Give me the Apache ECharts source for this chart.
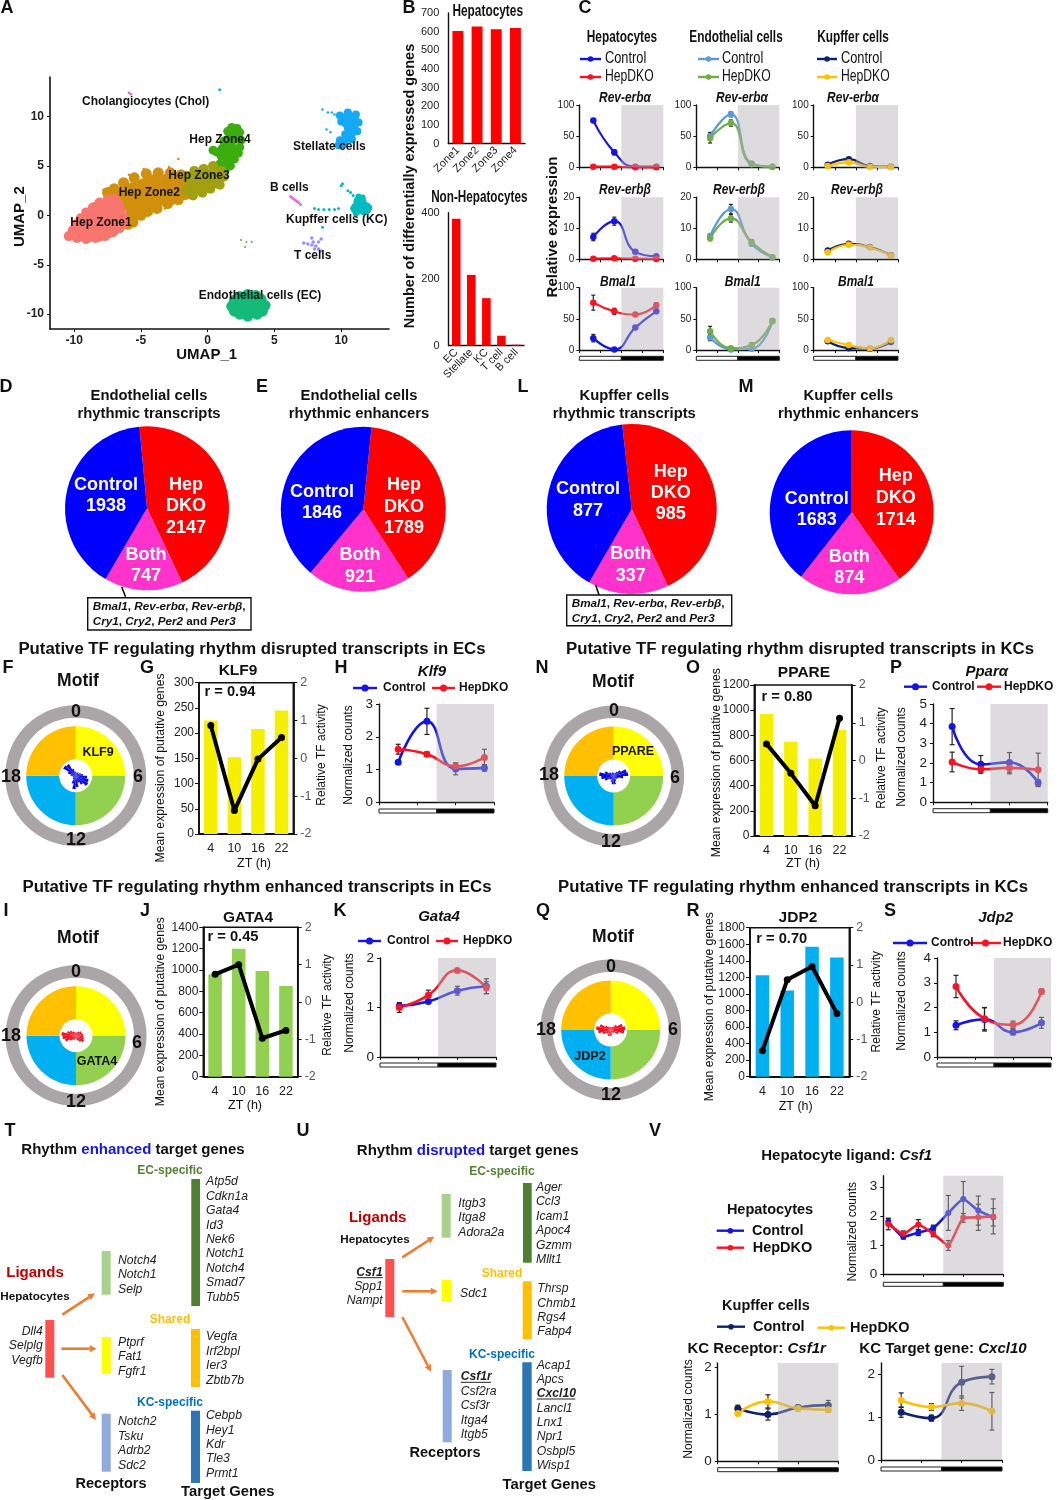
<!DOCTYPE html>
<html><head><meta charset="utf-8">
<style>html,body{margin:0;padding:0;background:#fff}#c{width:1063px;height:1500px}</style>
<script src="https://cdn.jsdelivr.net/npm/echarts@6/dist/echarts.min.js"></script>
</head><body><div id="c"></div>
<script>
// ---------- Panel A: UMAP clusters (core + outline points)
const umapZone1Core=[[-9.7,-1.8],[-9,-1.9],[-8.2,-1.8],[-7.5,-1.5],[-9.2,-1],[-8.4,-1],[-7.6,-.9],[-6.9,-.8],[-8.8,-.2],[-8,-.1],[-7.2,0],[-6.8,-.2],[-8.1,.7],[-7.4,.8],[-6.9,.8]];
const umapZone1Edge=[[-10.4,-2.1],[-10.1,-1.5],[-9.8,-.9],[-9.5,-.3],[-9.1,.3],[-8.6,.8],[-8.1,1.3],[-7.5,1.6],[-7,1.7],[-6.7,1.2],[-6.5,.5],[-6.3,-.2],[-6.2,-.8],[-6.6,-1.3],[-7.1,-1.7],[-7.7,-2.1],[-8.4,-2.3],[-9.1,-2.4],[-9.8,-2.3]];
const umapZone2Core=[[-6.4,2],[-5.6,2.6],[-4.8,3],[-4,3.4],[-3,3.5],[-2.2,3.2],[-5.9,1.2],[-5.2,1.7],[-4.5,2.3],[-3.5,2.6],[-2.5,2.5],[-1.9,2.4],[-5.3,.6],[-4.5,1.3],[-3.6,1.7],[-2.7,1.8],[-5.6,.1]];
const umapZone2Edge=[[-7.5,2.3],[-7,2.7],[-6.3,3.3],[-5.5,3.8],[-4.6,4.2],[-3.7,4.3],[-2.8,4.3],[-2,4.1],[-1.6,3.6],[-1.6,2.8],[-1.7,2.1],[-2.2,1.6],[-3,1.2],[-3.8,.7],[-4.5,.4],[-5,0],[-5.6,-.7],[-6,-.9]];
const umapZone2Specks=[[-2.2,5.7],[-5.9,4.1],[-3.2,.7],[-7.8,2.6],[-4.8,4.7],[-2.9,4.9]];
const umapZone3Core=[[-1,3.8],[-.4,3.8],[.3,4.1],[.7,3.8],[-.9,2.9],[-.3,3],[.3,3.3],[-1.2,3.3]];
const umapZone3Edge=[[-1.6,4],[-1,4.5],[-.3,4.7],[.4,5],[1,4.5],[1.2,3.9],[.9,3.1],[.2,2.7],[-.4,2.3],[-1.1,2],[-1.6,2.5]];
const umapZone4Core=[[1.8,8.4],[2,7.8],[1.7,7.1],[2,6.5],[1.6,6],[1.5,5.3],[1.3,4.9],[1.5,7.6],[1.4,6.6]];
const umapZone4Edge=[[1.5,8.5],[1.8,8.9],[2.2,8.8],[2.4,8.4],[2.5,7.6],[2.4,6.9],[2.3,6.3],[2,5.7],[1.7,5],[1.3,4.5],[.9,4.7],[.9,5.2],[1,6],[.7,6.4],[.4,6.6],[1.1,6.8],[1.2,7.5]];
const umapECCore=[[2.6,-8.8],[3.2,-8.7],[3.7,-9],[2.6,-9.5],[3.2,-9.5],[3.7,-9.4]];
const umapECEdge=[[1.8,-9.2],[2,-8.6],[2.4,-8.2],[3,-8],[3.6,-8.1],[4,-8.5],[4.3,-9.1],[4.1,-9.7],[3.7,-10],[3,-10.2],[2.4,-10],[2,-9.7]];
const umapStellateCore=[[10.5,10],[10.9,9.8],[10.9,9.1],[10.8,8.5],[10.5,7.9],[10.1,7.4],[10.4,9.4],[10.6,8.9]];
const umapStellateEdge=[[9.9,10.1],[10.5,10.4],[11.1,10.2],[11.3,9.4],[11.2,8.5],[10.8,7.7],[10.2,7.2],[9.8,7.1],[10,9.5],[10.3,8.2],[9.9,7.6]];
const umapStellateSpecks=[[8.6,10.7],[9,10.4],[9.5,10.2],[9.3,10.4],[8.9,8.7],[9.2,8.4],[9.5,7.1]];
const umapKC=[[11.4,1.4],[11.2,.7],[11.8,.7],[11.5,1]];
const umapKCEdge=[[10.9,.7],[12.1,.8],[11.3,1.9],[11.6,1.8],[11.1,.2],[11.7,.3]];
const umapKCSpecks=[[8,.7],[8.3,.6],[8.7,.6],[9.1,.6],[9.5,.6],[9.8,.7],[10,3],[10.1,3.2],[10.5,2.5],[10.7,2.3],[10.9,2],[.9,12.7],[8.6,-1.2]];
const umapT=[[7.2,-2.8],[7.5,-2.9],[7.8,-3],[8.1,-3.1],[8.3,-3.4],[8.5,-3.6],[7.8,-2.3],[7.9,-2.7],[8.5,-2.4],[8.3,-2.7],[8,-3.4]];
const umapB=[[6.2,1.9],[6.3,1.8],[6.4,1.7],[6.5,1.6],[6.6,1.5],[6.7,1.4],[6.8,1.3],[6.95,1.1]];
const umapChol=[[-5.9,12.4],[-5.75,12.25]];
const umapStray=[[2.5,-2.5],[2.9,-2.7],[3.3,-2.7],[2.8,-3.2]];
// ---------- Panel B
const zoneCats=['Zone1','Zone2','Zone3','Zone4'];
const zoneVals=[603,628,613,620];
const nonHepCats=['EC','Stellate','KC','T cell','B cell'];
const nonHepVals=[382,213,143,30,3];
// ---------- Panel C
const ztC=[4,10,16,22];
const cHepA=[75,24,1,1], cHepAe=[3,4,2,2], dHepA=[1,1,0,0], dHepAe=[1,1,1,1];
const cEcA=[50,85,6,1], cEcAe=[6,4,2,1], dEcA=[47,71,5,1], dEcAe=[8,5,2,1];
const cKcA=[4,13,2,1], cKcAe=[2,2,1,1], dKcA=[2,8,1,.5], dKcAe=[1,2,1,1];
const cHepB=[7.2,12.3,2.4,1], cHepBe=[1.2,1.3,.6,.4], dHepB=[.2,.3,.2,.1], dHepBe=[.2,.2,.2,.1];
const cEcB=[7.5,16.2,5,.7], cEcBe=[.8,1.5,.7,.3], dEcB=[6.8,13.2,5.5,.7], dEcBe=[.8,1.2,.9,.3];
const cKcB=[2.8,5,4,1.3], cKcBe=[.4,.4,.4,.3], dKcB=[2.3,4.7,3.8,1.2], dKcBe=[.3,.3,.4,.3];
const cHepM=[19,1,36,62], cHepMe=[6,2,3,3], dHepM=[76,62,57,72], dHepMe=[12,5,3,4];
const cEcM=[20,1,2,46], cEcMe=[5,1,1,3], dEcM=[30,3,8,47], dEcMe=[8,2,3,3];
const cKcM=[14,3,2,13], cKcMe=[2,2,1,2], dKcM=[16,8,3,16], dKcMe=[2,2,1,2];
// ---------- Pies
const pieD=[2147,747,1938], pieE=[1789,921,1846], pieL=[985,337,877], pieM=[1714,874,1683];
// ---------- Motif rose plots (24 phase bins, clockwise from ZT0)
const quadrants=[1,1,1,1];
const roseKLF9=[3,3,4,3,5,7,11,13,14,10,7,11,13,8,4,3,3,3,5,8,14,13,7,4];
const rosePPARE=[3,3,5,8,13,14,9,5,4,3,5,8,8,6,4,5,9,12,14,9,5,3,4,3];
const roseGATA4=[3,4,5,6,6,7,7,8,9,7,5,3,3,4,5,7,11,13,14,9,7,5,4,3];
const roseJDP2=[3,3,4,7,12,14,13,8,4,3,3,5,6,6,4,5,8,12,14,11,6,4,3,3];
// ---------- TF bar + activity panels
const ztCats=['4','10','16','22'];
const klf9Bars=[225,152,208,245], klf9Act=[.87,-1.38,-.02,.55];
const ppareBars=[970,750,615,845], ppareAct=[.44,-.34,-1.2,1.12];
const gata4Bars=[960,1200,990,850], gata4Act=[.74,1,-.97,-.76];
const jdp2Bars=[1225,1040,1570,1440], jdp2Act=[-1.3,.6,.96,-.3];
// ---------- Normalized counts
const klf9Ctl=[1.22,2.47,1.02,1.05], klf9CtlE=[.05,.4,.18,.1], klf9Dko=[1.62,1.47,1.1,1.37], klf9DkoE=[.15,.07,.1,.25];
const pparaCtl=[3.85,1.93,2.03,1], pparaCtlE=[.92,.45,.5,.15], pparaDko=[2.05,1.68,1.75,1.65], pparaDkoE=[.5,.15,.3,.85];
const gata4Ctl=[1.03,1.12,1.34,1.43], gata4CtlE=[.05,.03,.09,.15], gata4Dko=[1,1.25,1.75,1.4], gata4DkoE=[.1,.1,.03,.12];
const jdp2Ctl=[1.28,1.52,1,1.38], jdp2CtlE=[.18,.47,.1,.22], jdp2Dko=[2.85,1.55,1.3,2.65], jdp2DkoE=[.45,.45,.15,.1];
const zt8=[1,4,7,10,13,16,19,22];
const csf1Ctl=[1.8,1.28,1.42,1.58,2.1,2.58,2.18,1.95], csf1CtlE=[.1,.08,.1,.1,.6,.6,.5,.3];
const csf1Dko=[1.72,1.38,1.7,1.38,.98,1.93,1.95,1.98], csf1DkoE=[.2,.1,.17,.1,.17,.15,.45,.6];
const csf1rCtl=[1.13,1,1.15,1.2], csf1rCtlE=[.07,.12,.05,.1], csf1rDko=[1.02,1.28,1.13,1.1], csf1rDkoE=[.04,.14,.05,.05];
const cxcl10Ctl=[1.12,.98,1.82,1.95], cxcl10CtlE=[.12,.07,.37,.17], cxcl10Dko=[1.4,1.24,1.33,1.14], cxcl10DkoE=[.17,.08,.17,.44];
// ---------- Gene lists
const tEcTargets=['Atp5d','Cdkn1a','Gata4','Id3','Nek6','Notch1','Notch4','Smad7','Tubb5'];
const tEcRec=['Notch4','Notch1','Selp'];
const tLig=['Dll4','Selplg','Vegfb'];
const tSharedRec=['Ptprf','Fat1','Fgfr1'];
const tSharedTargets=['Vegfa','Irf2bpl','Ier3','Zbtb7b'];
const tKcTargets=['Cebpb','Hey1','Kdr','Tle3','Prmt1'];
const tKcRec=['Notch2','Tsku','Adrb2','Sdc2'];
const uEcTargets=['Ager','Ccl3','Icam1','Apoc4','Gzmm','Mllt1'];
const uEcRec=['Itgb3','Itga8','Adora2a'];
const uLig=['Csf1','Spp1','Nampt'];
const uSharedRec=['Sdc1'];
const uSharedTargets=['Thrsp','Chmb1','Rgs4','Fabp4'];
const uKcTargets=['Acap1','Apcs','Cxcl10','Lancl1','Lnx1','Npr1','Osbpl5','Wisp1'];
const uKcRec=['Csf1r','Csf2ra','Csf3r','Itga4','Itgb5'];

// ---------- Builders
const F='"Liberation Sans"';
const BLUE='#1414e8', RED='#ff1020', ECC='#5b9bd5', ECD='#70ad47', KCC='#10206e', KCD='#ffc000';
const grids=[],xAxes=[],yAxes=[],series=[],gfx=[];
const plain=v=>String(v);
function fontStr(o){return (o.italic?'italic ':'')+(o.bold?'bold ':'')+(o.size||13)+'px '+(o.family||F);}
function t(x,y,text,o={}){gfx.push({type:'text',x,y,rotation:o.rot||0,scaleX:o.sx||1,silent:true,z:o.z||50,style:{text,font:fontStr(o),fill:o.color||'#111',align:o.align||'center',verticalAlign:'middle'}});}
function rich(x,y,parts,o={}){let s='',r={};parts.forEach((p,i)=>{const k='p'+i;s+='{'+k+'|'+p.s+'}';r[k]={fontFamily:o.family||F,fontSize:o.size||14,fontWeight:p.bold===false?'normal':'bold',fontStyle:p.i?'italic':'normal',fill:p.color||'#111',color:p.color||'#111'};});
 gfx.push({type:'text',x,y,silent:true,z:50,style:{text:s,rich:r,align:o.align||'center',verticalAlign:'middle'}});}
function rect(x,y,w,h,fill,stroke,lw){gfx.push({type:'rect',silent:true,z:20,shape:{x,y,width:w,height:h},style:{fill:fill||'none',stroke:stroke||null,lineWidth:lw||0}});}
function seg(x1,y1,x2,y2,color,lw){gfx.push({type:'line',silent:true,z:20,shape:{x1,y1,x2,y2},style:{stroke:color,lineWidth:lw}});}
function arrow(x1,y1,x2,y2){const a=Math.atan2(y2-y1,x2-x1),L=7,W=3.5,bx=x2-L*Math.cos(a),by=y2-L*Math.sin(a);seg(x1,y1,bx,by,'#ed7d31',2.6);
 gfx.push({type:'polygon',silent:true,z:20,shape:{points:[[x2,y2],[bx-W*Math.sin(a),by+W*Math.cos(a)],[bx+W*Math.sin(a),by-W*Math.cos(a)]]},style:{fill:'#ed7d31'}});}
function leg(x1,x2,y,color,label,tx,size,o={}){seg(x1,y,x2,y,color,o.lw||2.4);gfx.push({type:'circle',silent:true,z:21,shape:{cx:(x1+x2)/2,cy:y,r:o.r||2.8},style:{fill:color}});t(tx,y,label,{size:size,align:'left',bold:o.bold,sx:o.sx});}
function grid(l,r,tp,b,show){grids.push({left:l,top:tp,width:r-l,height:b-tp,containLabel:false,show:!!show,borderColor:'#111',borderWidth:1.5});return grids.length-1;}
const lineAx=(lw)=>({show:true,onZero:false,lineStyle:{color:'#111',width:lw||1.4}});

function lineChart(o){
 const g=grid(o.l,o.r,o.t,o.b);const xi=xAxes.length,yi=yAxes.length;
 xAxes.push({gridIndex:g,type:'value',min:0,max:24,axisLine:lineAx(),splitLine:{show:false},axisLabel:{show:false},axisTick:{show:true,length:3,customValues:o.xTicks||[0,6,12,18,24],lineStyle:{color:'#111'}}});
 yAxes.push({gridIndex:g,type:'value',min:0,max:o.yMax,axisLine:lineAx(),splitLine:{show:false},axisTick:{show:true,length:3,customValues:o.yTicks,lineStyle:{color:'#111'}},axisLabel:{customValues:o.yTicks,formatter:plain,fontFamily:F,fontSize:o.fs||13.5,color:'#222',margin:o.lm||6}});
 const ax={xAxisIndex:xi,yAxisIndex:yi,silent:true};
 series.push({...ax,type:'custom',z:6,data:[[12,24]],encode:{x:[0,1]},renderItem:(p,api)=>{const a=api.coord([api.value(0),0]),b=api.coord([api.value(1),0]);return{type:'rect',shape:{x:a[0],y:p.coordSys.y,width:b[0]-a[0],height:p.coordSys.height},style:{fill:'rgba(180,176,180,.45)'}};}});
 if(o.barY){series.push({...ax,type:'custom',z:3,clip:false,data:[[0,12,0],[12,24,1]],encode:{x:[0,1]},renderItem:(p,api)=>{const a=api.coord([api.value(0),0]),b=api.coord([api.value(1),0]),k=api.value(2);return{type:'rect',shape:{x:a[0],y:o.barY-2,width:b[0]-a[0],height:4},style:{fill:k?'#000':'#fff',stroke:'#222',lineWidth:1}};}});}
 o.lines.forEach(s=>{
  series.push({...ax,type:'custom',z:3,data:o.x.map((x,i)=>[x,s.v[i],s.e[i]]),encode:{x:0,y:1},renderItem:(p,api)=>{const x=api.value(0),v=api.value(1),e=api.value(2),a=api.coord([x,v+e]),b=api.coord([x,Math.max(v-e,0)]),c=o.cap||2.5;const st={stroke:'#222',lineWidth:1.2};return{type:'group',children:[{type:'line',shape:{x1:a[0],y1:a[1],x2:b[0],y2:b[1]},style:st},{type:'line',shape:{x1:a[0]-c,y1:a[1],x2:a[0]+c,y2:a[1]},style:st},{type:'line',shape:{x1:b[0]-c,y1:b[1],x2:b[0]+c,y2:b[1]},style:st}]};}});
  series.push({...ax,type:'line',z:4,smooth:o.smooth===undefined?.5:o.smooth,data:o.x.map((x,i)=>[x,s.v[i]]),symbol:'circle',symbolSize:o.ms||7,lineStyle:{color:s.c,width:o.lw||2.6},itemStyle:{color:s.c},clip:false});
 });
}
function barChart(o){
 const g=grid(o.l,o.r,o.t,o.b,true);const xi=xAxes.length,yi=yAxes.length;
 xAxes.push({gridIndex:g,type:'category',data:ztCats,axisLine:lineAx(1.8),axisTick:{show:false},axisLabel:{fontSize:12.5,color:'#222',fontFamily:F,margin:8}});
 yAxes.push({gridIndex:g,type:'value',min:0,max:o.yMax,interval:o.yInt,axisLine:lineAx(1.8),splitLine:{show:false},axisTick:{show:true,length:4,lineStyle:{color:'#111'}},axisLabel:{formatter:plain,fontSize:12,color:'#222',fontFamily:F,margin:5}});
 yAxes.push({gridIndex:g,type:'value',position:'right',min:-2,max:2,interval:1,axisLine:lineAx(1.8),splitLine:{show:false},axisTick:{show:true,length:4,lineStyle:{color:'#111'}},axisLabel:{formatter:plain,fontSize:12.5,color:'#555',fontFamily:F,margin:7}});
 series.push({type:'bar',xAxisIndex:xi,yAxisIndex:yi,silent:true,data:o.bars,barWidth:13.5,itemStyle:{color:o.color}});
 series.push({type:'line',xAxisIndex:xi,yAxisIndex:yi+1,silent:true,data:o.act,symbol:'circle',symbolSize:7,lineStyle:{color:'#000',width:4},itemStyle:{color:'#000'}});
 t(o.titleX,o.titleY,o.title,{bold:true,size:15.5});
 t(o.rX,o.rY,o.rText,{bold:true,size:14.7});
 t(o.ylX,o.ylY,'Mean expression of putative genes',{size:12.2,rot:Math.PI/2});
 t(o.yrX,o.yrY,'Relative TF activity',{size:12,rot:Math.PI/2});
 t(o.ztX,o.ztY,'ZT (h)',{size:12.5});
}
function motif(cx,cy,rose,roseColor,lab,labPos,nums,motifPos){
 series.push({type:'pie',silent:true,center:[cx,cy],radius:[58,70.5],startAngle:90,z:2,label:{show:false},labelLine:{show:false},data:[{value:1,itemStyle:{color:'#aaa6a8'}}]});
 const qc=['#ffff00','#92d050','#00b0f0','#ffc000'];
 series.push({type:'pie',silent:true,center:[cx,cy],radius:[16.5,49.5],startAngle:90,clockwise:true,z:2,label:{show:false},labelLine:{show:false},data:quadrants.map((v,i)=>({value:v,itemStyle:{color:qc[i]}}))});
 series.push({type:'pie',silent:true,center:[cx,cy],radius:[0,14.5],roseType:'area',startAngle:90,clockwise:true,z:3,label:{show:false},labelLine:{show:false},data:rose.map(v=>({value:v,itemStyle:{color:roseColor}}))});
 t(labPos[0],labPos[1],lab,{bold:true,size:12.5});
 ['0','6','12','18'].forEach((s,i)=>t(nums[i][0],nums[i][1],s,{bold:true,size:18}));
 t(motifPos[0],motifPos[1],'Motif',{bold:true,size:17.5});
}
function pie(cx,cy,r,start,vals,lines){
 const cs=['#ff0000','#ff33cc','#0000ff'];
 series.push({type:'pie',silent:true,center:[cx,cy],radius:[0,r],startAngle:start,clockwise:true,label:{show:false},labelLine:{show:false},data:vals.map((v,i)=>({value:v,itemStyle:{color:cs[i]}}))});
 lines.forEach(l=>t(l[0],l[1],l[2],{bold:true,size:18,color:'#fff'}));
}
function bars(g,cats,vals,yMax,yInt){
 const xi=xAxes.length,yi=yAxes.length;
 xAxes.push({gridIndex:g,type:'category',data:cats,axisLine:lineAx(1.4),axisTick:{show:false},axisLabel:{rotate:45,interval:0,fontSize:11,fontFamily:F,color:'#222',margin:5}});
 yAxes.push({gridIndex:g,type:'value',min:0,max:yMax,interval:yInt,axisLine:lineAx(1.4),splitLine:{show:false},axisTick:{show:false},axisLabel:{formatter:plain,fontSize:11,fontFamily:F,color:'#222',margin:9}});
 series.push({type:'bar',xAxisIndex:xi,yAxisIndex:yi,silent:true,data:vals,barWidth:'57%',itemStyle:{color:'#ff0000'}});
}

// ---------- Panel A
{
 const g=grid(50,389,77,329);
 const ticks=[-10,-5,0,5,10], xi=xAxes.length, yi=yAxes.length;
 xAxes.push({gridIndex:g,type:'value',min:-11.81,max:13.58,splitLine:{show:false},axisLine:lineAx(1.6),axisTick:{show:true,length:3,customValues:ticks,lineStyle:{color:'#111'}},axisLabel:{customValues:ticks,fontWeight:'bold',fontSize:12,color:'#222',fontFamily:F,margin:6}});
 yAxes.push({gridIndex:g,type:'value',min:-11.5,max:14,splitLine:{show:false},axisLine:lineAx(1.6),axisTick:{show:true,length:3,customValues:ticks,lineStyle:{color:'#111'}},axisLabel:{customValues:ticks,fontWeight:'bold',fontSize:12,color:'#222',fontFamily:F,margin:6}});
 const sc=(d,size,color)=>series.push({type:'scatter',xAxisIndex:xi,yAxisIndex:yi,silent:true,data:d,symbolSize:size,itemStyle:{color,opacity:1}});
 sc(umapZone2Specks,2.5,'#d0900c');sc(umapZone2Edge,11,'#d0900c');sc(umapZone2Core,15,'#d0900c');
 sc(umapZone1Edge,10,'#f8766d');sc(umapZone1Core,17,'#f8766d');
 sc(umapZone4Edge,9,'#3bae0e');sc(umapZone4Core,11,'#3bae0e');
 sc(umapZone3Edge,10,'#a0a010');sc(umapZone3Core,13,'#a0a010');
 sc(umapECEdge,11,'#13ba7a');sc(umapECCore,18,'#13ba7a');
 sc(umapStellateEdge,8,'#14a9f4');sc(umapStellateCore,11,'#14a9f4');sc(umapStellateSpecks,2.5,'#14a9f4');
 sc(umapKCEdge,6,'#00bcc0');sc(umapKC,13,'#00bcc0');sc(umapKCSpecks,3,'#00bcc0');
 sc(umapT,3.5,'#9590ff');sc(umapB,3,'#e76bf3');sc(umapChol,2.5,'#f060c0');sc(umapStray,2,'#50b030');
 [['Cholangiocytes (Chol)',145.7,101.7],['Hep Zone4',220,140],['Hep Zone3',199,176],['Hep Zone2',149.3,192.3],['Hep Zone1',101,222.7],['Stellate cells',329.3,147],['B cells',289.3,187.3],['Kupffer cells (KC)',336.7,220],['T cells',312.7,256],['Endothelial cells (EC)',260,295.7]].forEach(a=>t(a[1],a[2],a[0],{bold:true,size:12}));
 t(206.7,355,'UMAP_1',{bold:true,size:15});
 t(20,216.7,'UMAP_2',{bold:true,size:15,rot:Math.PI/2});
}
// ---------- Panel B
bars(grid(448.3,525,13,143.5),zoneCats,zoneVals,700,100);
bars(grid(448.7,524,212.7,345.7),nonHepCats,nonHepVals,400,200);
t(487.7,11,'Hepatocytes',{bold:true,size:16.5,sx:.72});
t(479.3,197.3,'Non-Hepatocytes',{bold:true,size:16.5,sx:.71});
t(410,186,'Number of differentially expressed genes',{bold:true,size:14.5,rot:Math.PI/2});
// ---------- Panel C
{
 const cols=[{l:579.3,r:663.3,cc:BLUE,dc:RED},{l:696.3,r:779.3,cc:ECC,dc:ECD},{l:813.7,r:898,cc:KCC,dc:KCD}];
 const rows=[{t:105,b:167.3,max:100,tk:[0,50,100]},{t:197.3,b:259.3,max:20,tk:[0,10,20]},{t:287.7,b:350,max:100,tk:[0,50,100],barY:358.3}];
 const tbl=[[[cHepA,cHepAe,dHepA,dHepAe],[cEcA,cEcAe,dEcA,dEcAe],[cKcA,cKcAe,dKcA,dKcAe]],[[cHepB,cHepBe,dHepB,dHepBe],[cEcB,cEcBe,dEcB,dEcBe],[cKcB,cKcBe,dKcB,dKcBe]],[[cHepM,cHepMe,dHepM,dHepMe],[cEcM,cEcMe,dEcM,dEcMe],[cKcM,cKcMe,dKcM,dKcMe]]];
 rows.forEach((R,ri)=>cols.forEach((C,ci)=>{const d=tbl[ri][ci];
  lineChart({l:C.l,r:C.r,t:R.t,b:R.b,yMax:R.max,yTicks:R.tk,barY:R.barY,x:ztC,fs:10,lm:5,lw:2.2,ms:6.5,cap:2,lines:[{v:d[0],e:d[1],c:C.cc},{v:d[2],e:d[3],c:C.dc}]});
 }));
 const titles=[['Rev-erbα',625,97.7],['Rev-erbα',742,97.7],['Rev-erbα',853,97.7],['Rev-erbβ',625,190],['Rev-erbβ',739,190],['Rev-erbβ',857,190],['Bmal1',618,281.7],['Bmal1',742.7,281.7],['Bmal1',856,281.7]];
 titles.forEach(a=>t(a[1],a[2],a[0],{bold:true,italic:true,size:15.5,sx:.77}));
 [['Hepatocytes',622],['Endothelial cells',736],['Kupffer cells',853]].forEach(a=>t(a[1],38,a[0],{bold:true,size:16,sx:.74}));
 const L=[[580,601,605,BLUE,RED],[698,719,722,ECC,ECD],[817,837,841,KCC,KCD]];
 L.forEach(a=>{leg(a[0],a[1],59,a[3],'Control',a[2],16,{sx:.8});leg(a[0],a[1],77,a[4],'HepDKO',a[2],16,{sx:.76});});
 t(553,227,'Relative expression',{bold:true,size:15,rot:Math.PI/2});
}
// ---------- Pies
[[149,'Endothelial cells','rhythmic transcripts'],[359,'Endothelial cells','rhythmic enhancers'],[624.3,'Kupffer cells','rhythmic transcripts'],[848.3,'Kupffer cells','rhythmic enhancers']].forEach(a=>{t(a[0],396,a[1],{bold:true,size:14.8});t(a[0],414,a[2],{bold:true,size:14.8});});
pie(147,508.3,82,95.3,pieD,[[106,485,'Control'],[106,506,'1938'],[186,485,'Hep'],[186,506,'DKO'],[186,528,'2147'],[146,555,'Both'],[146,576,'747']]);
pie(363.3,509.3,82.5,84.3,pieE,[[322,492,'Control'],[322,513,'1846'],[404,485,'Hep'],[404,507,'DKO'],[404,528,'1789'],[360,555,'Both'],[360,577,'921']]);
pie(631.7,509,85,96.4,pieL,[[588,489,'Control'],[588,511,'877'],[670.7,471.7,'Hep'],[670.7,492.7,'DKO'],[670.7,514.3,'985'],[630.7,554.3,'Both'],[630.7,576,'337']]);
pie(851.7,512.3,82,90,pieM,[[816.7,499,'Control'],[816.7,520,'1683'],[895.7,476,'Hep'],[895.7,498.3,'DKO'],[895.7,520,'1714'],[849.3,556.7,'Both'],[849.3,578.3,'874']]);
function clockBox(x,y,w,h,tx,y1,y2,lx1,ly1,lx2,ly2){rect(x,y,w,h,'#fff','#111',1.4);seg(lx1,ly1,lx2,ly2,'#111',1.6);
 rich(tx,y1,[{s:'Bmal1',i:1},{s:', '},{s:'Rev-erbα',i:1},{s:', '},{s:'Rev-erbβ',i:1},{s:','}],{size:11.7,align:'left'});
 rich(tx,y2,[{s:'Cry1',i:1},{s:', '},{s:'Cry2',i:1},{s:', '},{s:'Per2',i:1},{s:' and '},{s:'Per3',i:1}],{size:11.7,align:'left'});}
clockBox(87.7,597.7,163.3,32.3,92.7,606.7,622,121.7,586.7,125.5,596.7);
clockBox(566.7,595,165,30.7,571.7,603.3,618.3,595.7,585,599,595);
// ---------- Section titles
[[252,649,'Putative TF regulating rhythm disrupted transcripts in ECs'],[800,649,'Putative TF regulating rhythm disrupted transcripts in KCs'],[257,887,'Putative TF regulating rhythm enhanced transcripts in ECs'],[793,887,'Putative TF regulating rhythm enhanced transcripts in KCs']].forEach(a=>t(a[0],a[1],a[2],{bold:true,size:16.8}));
// ---------- Motifs
motif(75.7,775.7,roseKLF9,'#0a0ae0','KLF9',[98,753],[[76,712],[138,777],[76,840],[11,777]],[78,681]);
motif(613.7,776,rosePPARE,'#0a0ae0','PPARE',[633,752],[[614,711],[675,778],[611,842],[549,775]],[613,682]);
motif(76,1035.7,roseGATA4,'#f01020','GATA4',[97,1062],[[76,972],[137,1043],[76,1102],[11,1036]],[78,938]);
motif(610.7,1030,roseJDP2,'#f01020','JDP2',[590,1057],[[611,967],[673,1030],[611,1095],[546,1030]],[613,937]);
// ---------- Bar panels
barChart({l:199,r:293.3,t:682.7,b:834,yMax:300,yInt:50,bars:klf9Bars,act:klf9Act,color:'#f5f000',title:'KLF9',titleX:238,titleY:671,rText:'r = 0.94',rX:230,rY:692,ylX:160.7,ylY:768,yrX:321.7,yrY:755,ztX:254,ztY:864});
barChart({l:754.3,r:851.7,t:685,b:836,yMax:1200,yInt:200,bars:ppareBars,act:ppareAct,color:'#f5f000',title:'PPARE',titleX:804,titleY:673,rText:'r = 0.80',rX:787,rY:697,ylX:716.7,ylY:762.7,yrX:882,yrY:758,ztX:803,ztY:864});
barChart({l:203.3,r:297.7,t:927.3,b:1076.7,yMax:1400,yInt:200,bars:gata4Bars,act:gata4Act,color:'#92d050',title:'GATA4',titleX:248,titleY:917.7,rText:'r = 0.45',rX:233,rY:936.7,ylX:160.7,ylY:1011.7,yrX:328,yrY:1005,ztX:245,ztY:1105.7});
barChart({l:750,r:849.3,t:927.7,b:1076.7,yMax:1800,yInt:200,bars:jdp2Bars,act:jdp2Act,color:'#00b0f0',title:'JDP2',titleX:798,titleY:917.7,rText:'r = 0.70',rX:781.7,rY:939,ylX:710,ylY:1006.7,yrX:877,yrY:1001.7,ztX:795.7,ztY:1107});
// ---------- Count panels
const counts=(o,cv,ce,dv,de,cc,dc)=>lineChart({...o,lines:[{v:cv,e:ce,c:cc},{v:dv,e:de,c:dc}]});
counts({l:379,r:494,t:704,b:802.3,yMax:3,yTicks:[0,1,2,3],x:ztC,xTicks:[0,8,16,24],barY:811},klf9Ctl,klf9CtlE,klf9Dko,klf9DkoE,BLUE,RED);
counts({l:933,r:1047.7,t:704,b:802.3,yMax:5,yTicks:[0,1,2,3,4,5],x:ztC,xTicks:[0,8,16,24],barY:810.7},pparaCtl,pparaCtlE,pparaDko,pparaDkoE,BLUE,RED);
counts({l:380,r:496,t:958,b:1057,yMax:2,yTicks:[0,1,2],x:ztC,xTicks:[0,8,16,24],barY:1065},gata4Ctl,gata4CtlE,gata4Dko,gata4DkoE,BLUE,RED);
counts({l:937,r:1051,t:958,b:1057,yMax:4,yTicks:[0,1,2,3,4],x:ztC,xTicks:[0,8,16,24],barY:1065},jdp2Ctl,jdp2CtlE,jdp2Dko,jdp2DkoE,BLUE,RED);
counts({l:883.3,r:1003.3,t:1175.7,b:1274,yMax:3.38,yTicks:[0,1,2,3],x:zt8,xTicks:[0,8,16,24],barY:1284.3,smooth:.15,ms:6},csf1Ctl,csf1CtlE,csf1Dko,csf1DkoE,BLUE,RED);
counts({l:717.7,r:838.3,t:1363,b:1461.3,yMax:2.1,yTicks:[0,1,2],x:ztC,xTicks:[0,8,16,24],barY:1469.7},csf1rCtl,csf1rCtlE,csf1rDko,csf1rDkoE,KCC,KCD);
counts({l:881,r:1002,t:1363,b:1460,yMax:2.27,yTicks:[0,1,2],x:ztC,xTicks:[0,8,16,24],barY:1469},cxcl10Ctl,cxcl10CtlE,cxcl10Dko,cxcl10DkoE,KCC,KCD);
[[432,672,'Klf9'],[986.7,672,'Pparα'],[439,917,'Gata4'],[995.7,917.7,'Jdp2']].forEach(a=>t(a[0],a[1],a[2],{bold:true,italic:true,size:15}));
const nc=(x,y)=>t(x,y,'Normalized counts',{size:12,rot:Math.PI/2});
nc(349,755);nc(902,757);nc(350,1003);nc(902,1001);nc(853,1231.7);nc(689,1409);
[[353,377,383,432,455,459,688],[904,927,932,977,1001,1004,686.7],[358,381,387,436,458,463,941],[893,927,931,970,1001,1003,943]].forEach(a=>{leg(a[0],a[1],a[6],BLUE,'Control',a[2],12,{bold:true,r:3.5});leg(a[3],a[4],a[6],RED,'HepDKO',a[5],12,{bold:true,r:3.5});});
// ---------- Panel V labels
rich(846.7,1156,[{s:'Hepatocyte ligand: '},{s:'Csf1',i:1}],{size:15});
t(770,1210,'Hepatocytes',{bold:true,size:14.5});
leg(716.7,744,1230.7,BLUE,'Control',752,14.5,{bold:true});leg(716.7,744,1247.7,RED,'HepDKO',752.7,14.5,{bold:true});
t(766,1306,'Kupffer cells',{bold:true,size:14.5});
leg(717,745,1326.7,KCC,'Control',753,14.5,{bold:true});leg(817.7,845,1327.7,KCD,'HepDKO',850,14.5,{bold:true});
rich(756.7,1349,[{s:'KC Receptor: '},{s:'Csf1r',i:1}],{size:15});
rich(943,1349,[{s:'KC Target gene: '},{s:'Cxcl10',i:1}],{size:15});
// ---------- Panels T, U
function col(x,ys,names,o={}){names.forEach((n,i)=>t(x,ys[i],n,{italic:true,size:12.2,align:o.align||'left',bold:(o.bold||[]).includes(n),color:'#222'}));}
const head=(x,y,s,c)=>t(x,y,s,{bold:true,size:12,color:c});
const GRN='#548235',SH='#ffc000',KB='#0070c0';
rich(133,1150,[{s:'Rhythm '},{s:'enhanced',color:'#1414e8'},{s:' target genes'}],{size:15});
head(170,1171,'EC-specific',GRN);head(170,1320,'Shared',SH);head(170,1403,'KC-specific',KB);
rect(191.3,1179,8.7,127,'#4f7f30');rect(101.7,1251,9,43.7,'#a9d18e');rect(45.3,1320,9,57.7,'#ff5050');rect(101.7,1337,9,36.3,'#ffff00');rect(191,1329,9,58,'#ffc000');rect(191,1410.7,9,72.3,'#2e75b6');rect(101.7,1413.7,9,58,'#8faadc');
col(206,[1182,1196.5,1211,1225.5,1240,1254,1268.5,1283,1297.5],tEcTargets);
col(118,[1260.7,1275,1289.7],tEcRec);col(42.7,[1331.3,1346,1360.7],tLig,{align:'right'});
col(118,[1342.7,1357,1371.7],tSharedRec);col(206,[1337,1351.3,1365.7,1380.3],tSharedTargets);
col(206,[1415.7,1430.3,1444.7,1459,1473.7],tKcTargets);col(118,[1422,1436.3,1451,1465.7],tKcRec);
t(35,1272.7,'Ligands',{bold:true,size:15,color:'#c00000'});t(35,1296.7,'Hepatocytes',{bold:true,size:11.7});
arrow(62.3,1314.7,95,1293.3);arrow(61.3,1348.7,96.7,1348.7);arrow(62.3,1375,96,1420);
t(111,1484,'Receptors',{bold:true,size:14.5});t(227.7,1491.7,'Target Genes',{bold:true,size:14.8});
rich(467.7,1150.7,[{s:'Rhythm '},{s:'disrupted',color:'#1414e8'},{s:' target genes'}],{size:15});
head(502,1172,'EC-specific',GRN);head(502,1273.7,'Shared',SH);head(502,1354.7,'KC-specific',KB);
rect(523,1183,8.7,79.7,'#4f7f30');rect(441.7,1194,9,43.7,'#a9d18e');rect(385.3,1259,9,58,'#ff5050');rect(441.7,1279.7,9.3,22,'#ffff00');rect(522.7,1281.3,9,58,'#ffc000');rect(522.3,1362.3,9.4,108.7,'#2e75b6');rect(442.7,1370,9,72.3,'#8faadc');
col(536,[1187.7,1202,1216.3,1230.7,1245.3,1259.7],uEcTargets);
col(458.3,[1203.3,1218,1232.3],uEcRec);col(382.7,[1272.3,1286.7,1301],uLig,{align:'right',bold:['Csf1']});
col(460,[1293.7],uSharedRec);col(537.3,[1289,1303.3,1317.7,1332],uSharedTargets);
col(536.7,[1365.3,1379.7,1394,1408.3,1422.7,1437,1451.7,1466],uKcTargets,{bold:['Cxcl10']});
col(460.7,[1377,1391.3,1405.7,1420.3,1434.7],uKcRec,{bold:['Csf1r']});
seg(357.3,1277.7,382.7,1277.7,'#222',1);seg(460.7,1382.3,491,1382.3,'#222',1);seg(536.7,1399,575.3,1399,'#222',1);
t(377.7,1218.3,'Ligands',{bold:true,size:15,color:'#c00000'});t(375,1240,'Hepatocytes',{bold:true,size:11.7});
arrow(402.3,1257.3,434.3,1236.7);arrow(402.3,1291.3,437.7,1291.3);arrow(402.3,1317,431,1371.7);
t(445,1453.3,'Receptors',{bold:true,size:14.5});t(549.3,1485.3,'Target Genes',{bold:true,size:14.8});
// ---------- Panel letters
[['A',7,8],['B',409,8],['C',585,8],['D',6,387],['E',262,387],['L',523,387],['M',746,387],['F',8,668],['G',147,668],['H',341,668],['N',542,668],['O',693,668],['P',896,668],['I',6,911],['J',145,911],['K',340,911],['Q',543,911],['R',693,911],['S',890,911],['T',10,1131],['U',303,1131],['V',655,1131]].forEach(a=>t(a[1],a[2],a[0],{bold:true,size:18}));

const chart=echarts.init(document.getElementById('c'),null,{renderer:'canvas'});
chart.setOption({animation:false,backgroundColor:'#fff',tooltip:{show:false},grid:grids,xAxis:xAxes,yAxis:yAxes,series,graphic:{elements:gfx}});
</script></body></html>
